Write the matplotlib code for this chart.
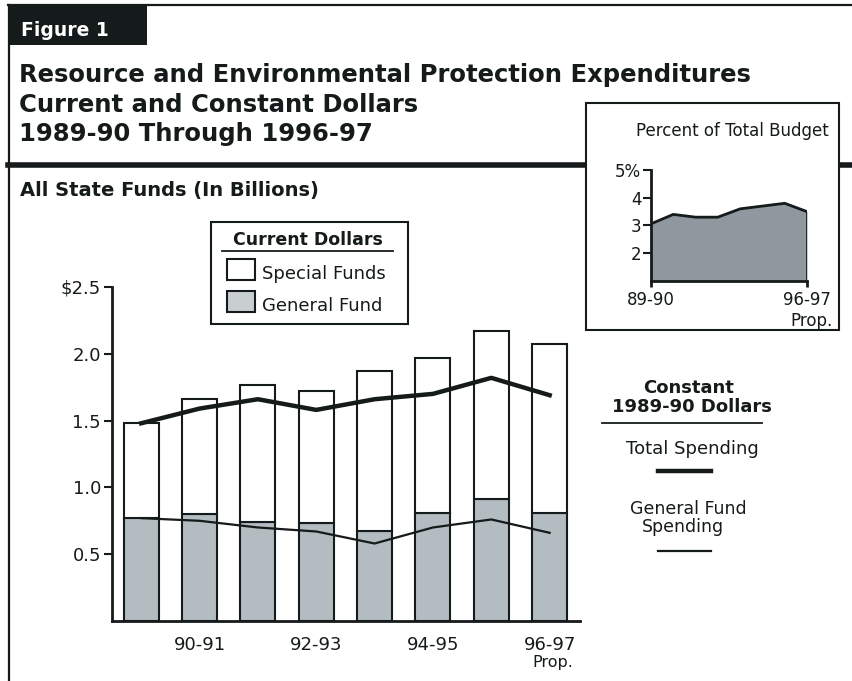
import matplotlib.pyplot as plt
from matplotlib.patches import Rectangle
from matplotlib.lines import Line2D
import matplotlib.transforms as mtransforms

plt.rcParams['font.family'] = ['DejaVu Sans']

# spending, billions of dollars (current dollars)
years = ["89-90", "90-91", "91-92", "92-93", "93-94", "94-95", "95-96", "96-97"]
total_current = [1.48, 1.66, 1.77, 1.72, 1.87, 1.97, 2.17, 2.07]
general_fund = [0.77, 0.80, 0.74, 0.73, 0.67, 0.81, 0.91, 0.81]
# constant 1989-90 dollars
total_constant = [1.48, 1.59, 1.66, 1.58, 1.66, 1.70, 1.82, 1.69]
general_constant = [0.77, 0.75, 0.70, 0.67, 0.58, 0.70, 0.76, 0.66]
# share of total state budget, percent
pct_budget = [3.06, 3.40, 3.30, 3.30, 3.60, 3.70, 3.80, 3.50]

special_funds = [t - g for t, g in zip(total_current, general_fund)]
xtick_pos = [1, 3, 5, 7]
ytick_vals = [0.5, 1.0, 1.5, 2.0, 2.5]
ytick_labels = ["0.5", "1.0", "1.5", "2.0", "$2.5"]

W, H = 852, 681
fig = plt.figure(figsize=(W / 100, H / 100), dpi=100)
dark = "#151a1a"
gf_gray = "#b3bcc1"


def fx(x):
    return x / W


def fy(y):
    return 1 - y / H


# page frame, tab and heading
fig.add_artist(Line2D([fx(8.5), fx(8.5)], [fy(5), 0], color=dark, lw=1.6))
fig.add_artist(Line2D([fx(8), 1], [fy(5), fy(5)], color=dark, lw=1.6))
fig.add_artist(Rectangle((fx(8), fy(45)), fx(147) - fx(8), fy(5) - fy(45),
                         facecolor=dark, edgecolor="none"))
fig.text(fx(21), fy(36.5), "Figure 1", color="white", fontsize=13.5,
         fontweight="bold", va="baseline")
for line, base in [("Resource and Environmental Protection Expenditures", 82),
                   ("Current and Constant Dollars", 112),
                   ("1989-90 Through 1996-97", 141)]:
    fig.text(fx(19), fy(base), line, fontsize=17.5, fontweight="bold",
             va="baseline", color=dark)
fig.add_artist(Line2D([fx(8), 1], [fy(165), fy(165)], color=dark, lw=4))
fig.text(fx(20), fy(196), "All State Funds (In Billions)", fontsize=14,
         fontweight="bold", va="baseline", color=dark)

# main bar chart
ax = fig.add_axes([fx(112), fy(621), fx(580) - fx(112), fy(287) - fy(621)])
x = list(range(len(years)))
ax.bar(x, general_fund, width=0.6, color=gf_gray, edgecolor=dark, lw=1.5)
ax.bar(x, special_funds, width=0.6, bottom=general_fund, color="white",
       edgecolor=dark, lw=1.5)
ax.plot(x, total_constant, color=dark, lw=3.2, solid_joinstyle="round")
ax.plot(x, general_constant, color=dark, lw=1.6)
ax.set_xlim(-0.5, 7.52)
ax.set_ylim(0, 2.5)
ax.set_yticks(ytick_vals)
ax.set_yticklabels(ytick_labels)
ax.set_xticks(xtick_pos)
ax.set_xticklabels([years[i] for i in xtick_pos])
ax.tick_params(axis="y", length=6, width=1.5, labelsize=13, pad=2,
               color=dark, labelcolor=dark)
ax.tick_params(axis="x", length=0, labelsize=13, pad=11, labelcolor=dark)
for s in ["top", "right"]:
    ax.spines[s].set_visible(False)
for s in ["left", "bottom"]:
    ax.spines[s].set_linewidth(2)
    ax.spines[s].set_color(dark)
trans = mtransforms.blended_transform_factory(ax.transData, fig.transFigure)
ax.text(7.05, fy(667), "Prop.", transform=trans, ha="center", va="baseline",
        fontsize=11.5, color=dark)

# current dollars key
fig.add_artist(Rectangle((fx(211), fy(324)), fx(408) - fx(211), fy(222) - fy(324),
                         facecolor="white", edgecolor=dark, lw=1.5))
fig.text(fx(308), fy(245), "Current Dollars", ha="center", va="baseline",
         fontsize=12.5, fontweight="bold", color=dark)
fig.add_artist(Line2D([fx(222), fx(393)], [fy(251), fy(251)], color=dark, lw=1.3))
for top, fc, lab in [(259, "white", "Special Funds"), (291, "#c9ced1", "General Fund")]:
    fig.add_artist(Rectangle((fx(227), fy(top + 21)), fx(255) - fx(227), fy(top) - fy(top + 21),
                             facecolor=fc, edgecolor=dark, lw=1.5))
    fig.text(fx(262), fy(top + 20), lab, va="baseline", fontsize=13, color=dark)

# constant dollars key
fig.text(fx(689), fy(393), "Constant", ha="center", va="baseline", fontsize=13,
         fontweight="bold", color=dark)
fig.text(fx(692), fy(412), "1989-90 Dollars", ha="center", va="baseline",
         fontsize=13, fontweight="bold", color=dark)
fig.add_artist(Line2D([fx(602), fx(762)], [fy(423), fy(423)], color=dark, lw=1.3))
fig.text(fx(692), fy(454), "Total Spending", ha="center", va="baseline",
         fontsize=13, color=dark)
fig.add_artist(Line2D([fx(658), fx(711)], [fy(471), fy(471)], color=dark, lw=3.2))
fig.text(fx(688), fy(514), "General Fund", ha="center", va="baseline",
         fontsize=12.5, color=dark)
fig.text(fx(683), fy(532), "Spending", ha="center", va="baseline",
         fontsize=12.5, color=dark)
fig.add_artist(Line2D([fx(658), fx(711)], [fy(551), fy(551)], color=dark, lw=1.6))

# inset: percent of total budget
fig.add_artist(Rectangle((fx(586), fy(330)), fx(839) - fx(586), fy(103) - fy(330),
                         facecolor="white", edgecolor=dark, lw=1.5, zorder=3))
fig.text(fx(732), fy(136), "Percent of Total Budget", ha="center", va="baseline",
         fontsize=12, color=dark, zorder=4)
axi = fig.add_axes([fx(651), fy(281), fx(807) - fx(651), fy(170) - fy(281)], zorder=5)
axi.patch.set_alpha(0)
xi = list(range(len(pct_budget)))
axi.fill_between(xi, 1, pct_budget, color="#8e989e", lw=0)
axi.plot(xi, pct_budget, color=dark, lw=2)
axi.plot([xi[-1], xi[-1]], [1, pct_budget[-1]], color=dark, lw=2)
axi.set_xlim(0, 7)
axi.set_ylim(1, 5)
axi.set_yticks([2, 3, 4, 5])
axi.set_yticklabels(["2", "3", "4", "5%"])
axi.set_xticks([0, 7])
axi.set_xticklabels(["89-90", "96-97"])
axi.tick_params(axis="y", length=6, width=1.5, labelsize=12, pad=1,
                color=dark, labelcolor=dark)
axi.tick_params(axis="x", length=4, width=2, labelsize=12, pad=3,
                color=dark, labelcolor=dark)
for s in ["top", "right"]:
    axi.spines[s].set_visible(False)
for s in ["left", "bottom"]:
    axi.spines[s].set_linewidth(2)
    axi.spines[s].set_color(dark)
fig.text(fx(833), fy(326), "Prop.", ha="right", va="baseline", fontsize=12,
         color=dark, zorder=6)

fig.savefig("out.png", dpi=100)
